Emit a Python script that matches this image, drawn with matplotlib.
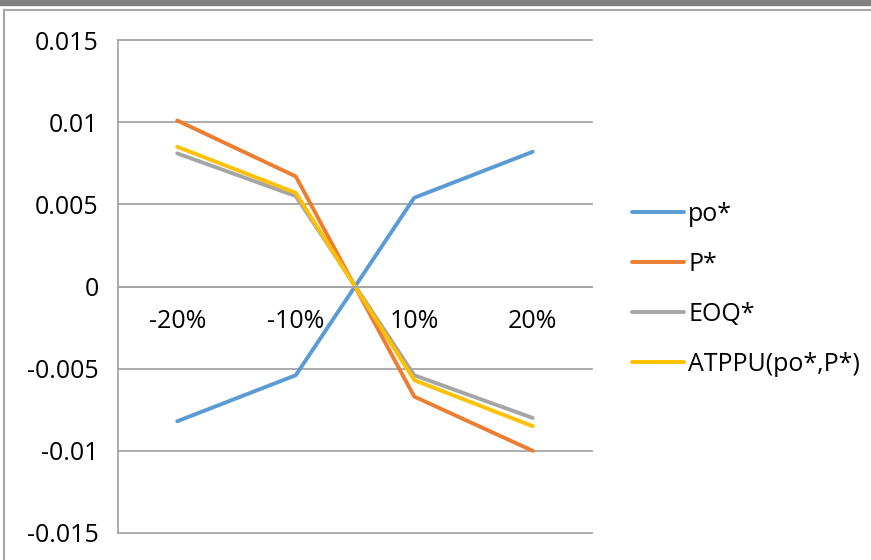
import matplotlib.pyplot as plt
from matplotlib.lines import Line2D
from matplotlib.patches import Rectangle

# sensitivity of the optimal values to parameter changes
changes = ['-20%', '-10%', '10%', '20%']
po_star = [-0.0082, -0.0054, 0.0054, 0.0082]
p_star = [0.0101, 0.0067, -0.0067, -0.0100]
eoq_star = [0.0081, 0.0055, -0.0054, -0.0080]
atppu = [0.0085, 0.0057, -0.0057, -0.0085]

yticks = [-0.015, -0.01, -0.005, 0, 0.005, 0.01, 0.015]
ylabels = ['-0.015', '-0.01', '-0.005', '0', '0.005', '0.01', '0.015']

plt.rcParams['font.family'] = ['Open Sans', 'DejaVu Sans']

fig = plt.figure(figsize=(8.71, 5.60), dpi=100)

# dark strip on top and the chart frame
fig.patches.append(Rectangle((0, 1 - 5 / 560), 1, 5 / 560, transform=fig.transFigure,
                             color='#808080', zorder=0))
fig.lines.append(Line2D([4 / 871, 1], [1 - 10 / 560, 1 - 10 / 560], transform=fig.transFigure,
                        color='#A6A6A6', lw=1.5))
fig.lines.append(Line2D([4 / 871, 4 / 871], [0, 1 - 10 / 560], transform=fig.transFigure,
                        color='#A6A6A6', lw=1.5))

ax = fig.add_axes([118 / 871, 27 / 560, 474 / 871, 493 / 560])

x = range(len(changes))
lw = 2.8
ax.plot(x, po_star, color='#5B9BD5', lw=lw, label='po*', solid_capstyle='round')
ax.plot(x, p_star, color='#ED7D31', lw=lw, label='P*', solid_capstyle='round')
ax.plot(x, eoq_star, color='#A5A5A5', lw=lw, label='EOQ*', solid_capstyle='round')
ax.plot(x, atppu, color='#FFC000', lw=lw, label='ATPPU(po*,P*)', solid_capstyle='round')

ax.set_xlim(-0.5, len(changes) - 0.5)
ax.set_ylim(-0.015, 0.015)
ax.set_yticks(yticks)
ax.set_yticklabels(ylabels)
ax.set_xticks(list(x))
ax.set_xticklabels(changes)

# horizontal axis crosses at zero
for side in ['top', 'right']:
    ax.spines[side].set_visible(False)
ax.spines['bottom'].set_position(('data', 0))
ax.spines['bottom'].set_color('#A6A6A6')
ax.spines['left'].set_color('#A6A6A6')
ax.spines['left'].set_linewidth(1.3)
ax.spines['bottom'].set_linewidth(1.3)

ax.yaxis.grid(True, color='#A6A6A6', lw=1.3)
for gl in ax.get_ygridlines():
    gl.set_clip_on(False)
ax.set_axisbelow(True)

ax.tick_params(axis='y', length=0, pad=14, labelsize=18)
ax.tick_params(axis='x', length=0, pad=16, labelsize=18)

ax.legend(loc='center left', bbox_to_anchor=(1.084, 0.494), frameon=False, fontsize=18,
          borderpad=0, borderaxespad=0, handlelength=2.1, handletextpad=0.15,
          labelspacing=1.0)

fig.savefig('out.png', dpi=100)
